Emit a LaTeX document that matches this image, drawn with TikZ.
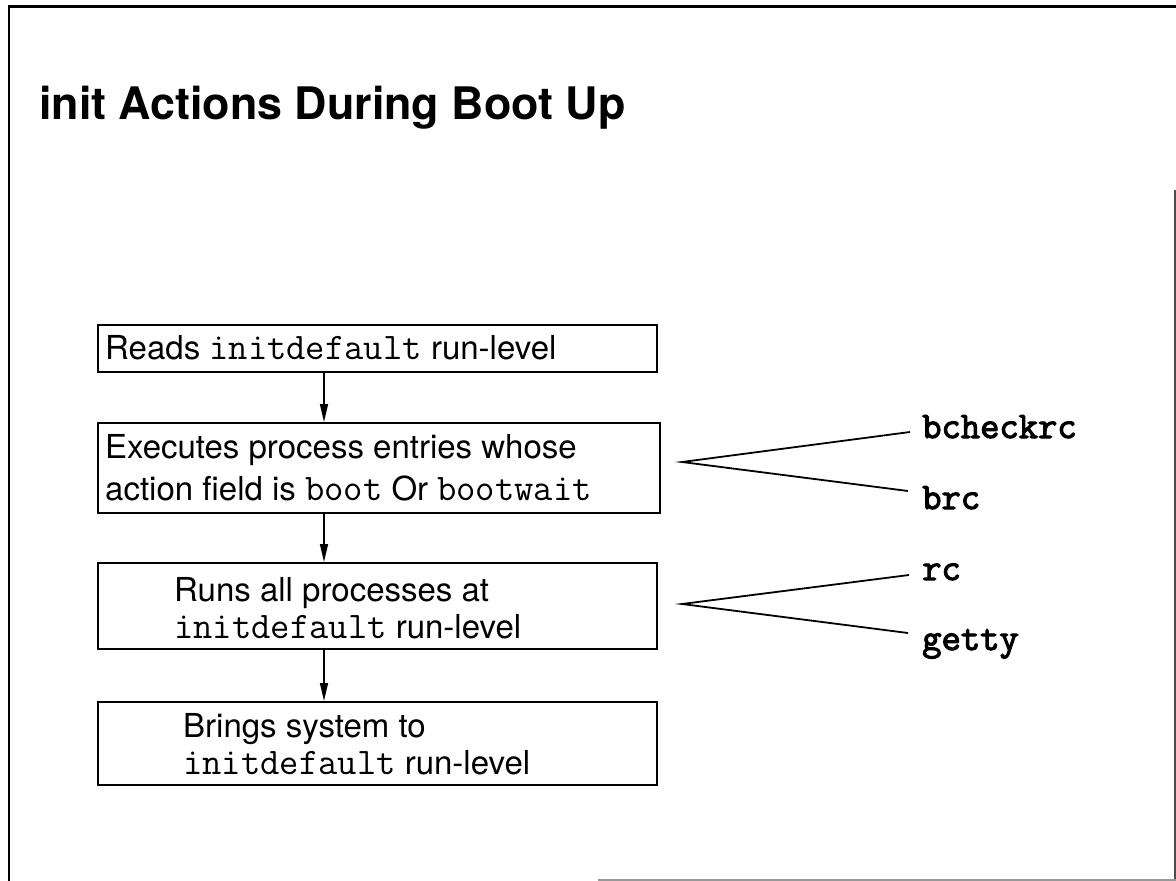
\documentclass[tikz,border=0pt]{standalone}
\usepackage{fontspec}
\setmainfont{TeX Gyre Heros}
\newfontfamily\lblfont[FakeBold=3]{Latin Modern Mono}
\usetikzlibrary{arrows.meta,calc}
\newcommand\mymono[1]{{\fontsize{37.5}{40}\selectfont\ttfamily #1}}
\begin{document}
\begin{tikzpicture}[x=1pt,y=-1pt,
  box/.style={draw=black,line width=1.7pt,inner sep=0pt,anchor=north west},
  txt/.style={anchor=base west,inner sep=0pt,font=\fontsize{33}{40}\selectfont},
  lbl/.style={anchor=base west,inner sep=0pt,font=\fontsize{37.5}{40}\selectfont\lblfont},
  arr/.style={line width=1.5pt,-{Triangle[length=18pt,width=8pt]}},
  fan/.style={line width=1.8pt},
  frame/.style={line width=2.5pt}]
\useasboundingbox (0,0) rectangle (1176,881);
% frame
\draw[frame,line width=3pt] (8,6) -- (1176,6);
\draw[frame] (9,6) -- (9,881);
\draw[line width=2pt,black!70] (1175,190) -- (1175,881);
\draw[line width=2pt,black!40] (598,879.5) -- (1176,879.5);
% title
\node[anchor=base west,inner sep=0pt,font=\fontsize{44.8}{50}\selectfont\bfseries] (title) at (39,119) {init Actions During Boot Up};
% boxes
\node[box,minimum width=559pt,minimum height=47pt] (b1) at (97,324) {};
\node[box,minimum width=562pt,minimum height=90pt] (b2) at (97,422) {};
\node[box,minimum width=559pt,minimum height=86pt] (b3) at (97,562) {};
\node[box,minimum width=559pt,minimum height=83pt] (b4) at (97,701) {};
% box texts
\node[txt] (t1) at (105,359) {Reads \mymono{initdefault} run-level};
\node[txt] (t2a) at (105,458) {Executes process entries whose};
\node[txt] (t2b) at (105,500) {action field is \mymono{boot} Or \mymono{bootwait}};
\node[txt] (t3a) at (174,601) {Runs all processes at};
\node[txt] (t3b) at (174,638) {\mymono{initdefault} run-level};
\node[txt] (t4a) at (183,737) {Brings system to};
\node[txt] (t4b) at (183,774) {\mymono{initdefault} run-level};
% arrows
\coordinate (ax) at (324,0);
\draw[arr] (ax |- b1.south) -- (ax |- b2.north);
\draw[arr] (ax |- b2.south) -- (ax |- b3.north);
\draw[arr] (ax |- b3.south) -- (ax |- b4.north);
% labels
\node[lbl] (l1) at (922,438) {bcheckrc};
\node[lbl] (l2) at (922,509) {brc};
\node[lbl] (l3) at (922,580) {rc};
\node[lbl] (l4) at (922,650) {getty};
% fans
\coordinate (f1) at (682,462);
\coordinate (f2) at (682,604);
\draw[fan] ($(l1.base west)+(-12,-6)$) -- (f1) -- ($(l2.base west)+(-14,-18)$);
\draw[fan] ($(l3.base west)+(-13,-5)$) -- (f2) -- ($(l4.base west)+(-14,-17)$);
\end{tikzpicture}
\end{document}
